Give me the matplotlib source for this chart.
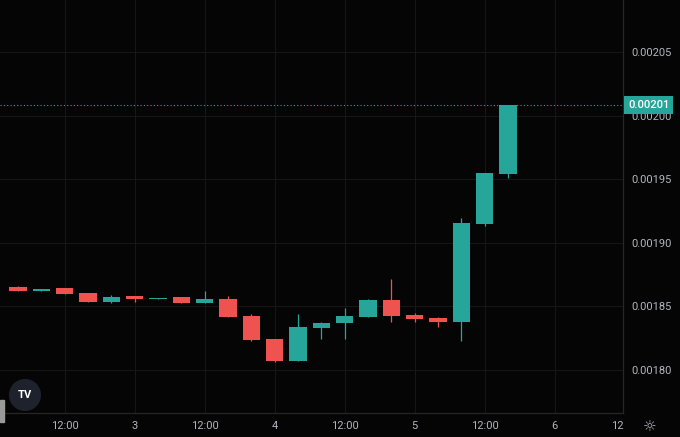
import pandas as pd
import matplotlib.pyplot as plt
import matplotlib.dates as mdates
import matplotlib.transforms as mtransforms
from matplotlib.patches import Circle, Rectangle

# 4h candles, starting day 2 04:00
times = pd.date_range(start="2024-01-02 04:00", periods=22, freq="4h")
opens = [0.0018655, 0.0018625, 0.0018642, 0.0018603, 0.0018537, 0.0018582,
         0.0018558, 0.0018572, 0.0018529, 0.0018556, 0.0018427, 0.0018241,
         0.0018071, 0.0018333, 0.0018367, 0.0018419, 0.0018550, 0.0018435,
         0.0018406, 0.0018380, 0.0019148, 0.0019541]
highs = [0.0018660, 0.0018636, 0.0018645, 0.0018606, 0.0018587, 0.0018585,
         0.0018570, 0.0018574, 0.0018621, 0.0018582, 0.0018438, 0.0018244,
         0.0018438, 0.0018374, 0.0018485, 0.0018558, 0.0018715, 0.0018446,
         0.0018419, 0.0019193, 0.0019548, 0.0020085]
lows = [0.0018618, 0.0018622, 0.0018596, 0.0018535, 0.0018524, 0.0018537,
        0.0018556, 0.0018527, 0.0018527, 0.0018417, 0.0018228, 0.0018063,
        0.0018069, 0.0018241, 0.0018241, 0.0018417, 0.0018375, 0.0018380,
        0.0018340, 0.0018230, 0.0019134, 0.0019507]
closes = [0.0018621, 0.0018633, 0.0018598, 0.0018537, 0.0018576, 0.0018558,
          0.0018568, 0.0018529, 0.0018556, 0.0018419, 0.0018234, 0.0018071,
          0.0018336, 0.0018372, 0.0018425, 0.0018550, 0.0018427, 0.0018399,
          0.0018380, 0.0019153, 0.0019546, 0.0020083]

price_ticks = [0.00180, 0.00185, 0.00190, 0.00195, 0.00200, 0.00205]
time_ticks = pd.date_range(start="2024-01-02 12:00", periods=8, freq="12h")
time_labels = ["12:00", "3", "12:00", "4", "12:00", "5", "12:00", "6"]

up_col = "#26a69a"
down_col = "#ef5350"
bg = "#050505"
grid_col = "#161616"
text_col = "#b2b5be"

plt.rcParams['font.family'] = ['Roboto', 'DejaVu Sans']

fig = plt.figure(figsize=(6.8, 4.37), dpi=100, facecolor=bg)
ax = fig.add_axes([0, 24 / 437, 623 / 680, 413 / 437], facecolor=bg)

x = mdates.date2num(times)
width = 3.0 / 24
for i in range(len(x)):
    col = up_col if closes[i] >= opens[i] else down_col
    ax.vlines(x[i], lows[i], highs[i], color=col, linewidth=0.9, zorder=3)
    lo = min(opens[i], closes[i])
    h = max(abs(closes[i] - opens[i]), 1.2e-7)
    ax.bar(x[i], h, width=width, bottom=lo, color=col, zorder=4)

# last price line and label
last = closes[-1]
ax.axhline(last, color=up_col, linestyle=(0, (1, 2)), linewidth=0.8, zorder=2)
trans = mtransforms.blended_transform_factory(ax.transAxes, ax.transData)
ax.text(1.008, last, "%.5f" % last, transform=trans, ha="left", va="center",
        fontsize=8, color="white", fontweight="medium", zorder=10,
        clip_on=False,
        bbox=dict(boxstyle="square,pad=0.36", fc=up_col, ec="none"))

start = mdates.date2num(pd.Timestamp("2024-01-02 00:00"))
ax.set_xlim(start + 0.914 / 24, start + 107.7 / 24)
ax.set_ylim(0.0017662, 0.0020909)

ax.set_xticks(mdates.date2num(time_ticks))
ax.set_xticklabels(time_labels)
ax.set_yticks(price_ticks)
ax.set_yticklabels(["%.5f" % p for p in price_ticks])
ax.yaxis.tick_right()
ax.tick_params(axis="both", length=0, colors=text_col, labelsize=8)
ax.tick_params(axis="y", pad=6)
ax.tick_params(axis="x", pad=6)

ax.grid(True, color=grid_col, linewidth=0.8)
ax.set_axisbelow(True)
for s in ["top", "left"]:
    ax.spines[s].set_visible(False)
for s in ["right", "bottom"]:
    ax.spines[s].set_color("#262626")
    ax.spines[s].set_linewidth(0.9)

# clipped "12" label at right edge and settings icon
fig.text(617 / 680, 1 - 426 / 437, "12", ha="center", va="center",
         fontsize=8, color=text_col)
fig.text(650 / 680, 1 - 427 / 437, "\u263c", ha="center", va="center",
         fontsize=11, color=text_col, family="DejaVu Sans")

# logo
lax = fig.add_axes([(25 - 16) / 680, (437 - 395 - 16) / 437, 32 / 680, 32 / 437])
lax.set_xlim(0, 1)
lax.set_ylim(0, 1)
lax.set_aspect("equal")
lax.axis("off")
lax.add_patch(Circle((0.5, 0.5), 0.48, color="#1e222d"))
lax.text(0.5, 0.5, "TV", ha="center", va="center", color="white",
         fontsize=8, fontweight="bold")

# left side tab
fig.patches.append(Rectangle((0, 1 - 422 / 437), 4 / 680, 22 / 437,
                             transform=fig.transFigure, color="#9a9a9a"))

fig.savefig("out.png", dpi=100, facecolor=bg)
